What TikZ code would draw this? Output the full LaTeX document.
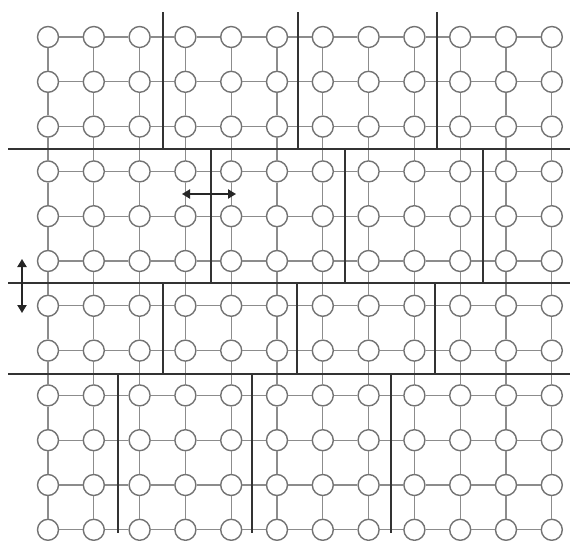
\documentclass[tikz,border=0pt]{standalone}
\usepackage{tikz}
\usetikzlibrary{arrows.meta}

\begin{document}
\begin{tikzpicture}[
  x=0.05cm, y=-0.05cm,
  pe/.style={circle, draw=black!55, fill=white, line width=2pt,
             minimum size=1.05cm, inner sep=0pt},
  link/.style={draw=black!45, line width=1.5pt},
  cut/.style={draw=black!80, line width=3.4pt},
  mv/.style={{Triangle[length=4mm,width=4.6mm]}-{Triangle[length=4mm,width=4.6mm]},
             line width=2.2pt, draw=black!85, fill=black!85}
]
\useasboundingbox (0,0) rectangle (570,540);

% --- processor grid 12 x 12 ---------------------------------------------
\foreach \c in {1,...,12}{%
  \foreach \r in {1,...,12}{%
    \node[pe] (n-\c-\r) at ({48+45.8*(\c-1)}, {37+44.8*(\r-1)}) {};
  }
}

% --- mesh links ---------------------------------------------------------
\foreach \a in {1,...,12}{%
  \foreach \b [evaluate=\b as \bn using int(\b+1)] in {1,...,11}{%
    \draw[link] (n-\b-\a) -- (n-\bn-\a);
    \draw[link] (n-\a-\b) -- (n-\a-\bn);
  }
}

% --- block boundaries: horizontal cuts ----------------------------------
\foreach \y in {149, 283, 374}{%
  \draw[cut] (8,\y) -- (570,\y);
}

% --- block boundaries: vertical cuts, shifted per band ------------------
\foreach \x/\ya/\yb in {163/12/149, 298/12/149, 437/12/149,
                        211/149/283, 345/149/283, 483/149/283,
                        163/283/374, 297/283/374, 435/283/374,
                        118/374/533, 252/374/533, 391/374/533}{%
  \draw[cut] (\x,\ya) -- (\x,\yb);
}

% --- shift arrows -------------------------------------------------------
\coordinate (hl) at (182,194);
\coordinate (hr) at (236,194);
\coordinate (vt) at (22,259);
\coordinate (vb) at (22,313);
\draw[mv] (hl) -- (hr);
\draw[mv] (vt) -- (vb);

\end{tikzpicture}
\end{document}
